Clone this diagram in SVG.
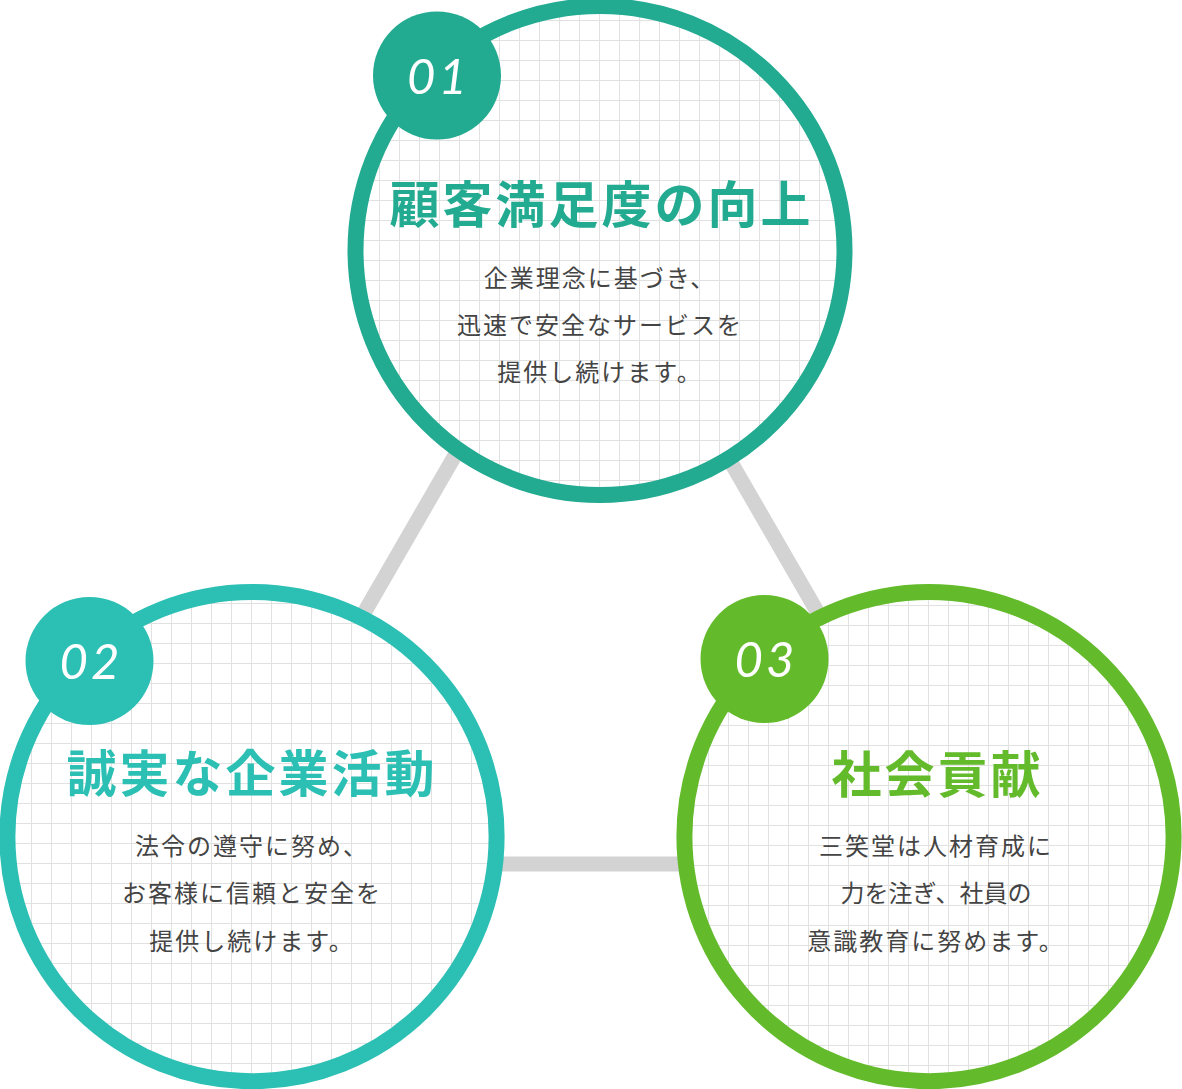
<svg xmlns="http://www.w3.org/2000/svg" width="1182" height="1089" viewBox="0 0 1182 1089">
  <defs>
    <pattern id="grid1" patternUnits="userSpaceOnUse" x="379" y="200" width="20" height="20">
      <path d="M0.5 0V20M0 0.5H20" class="gl"/>
    </pattern>
    <pattern id="grid2" patternUnits="userSpaceOnUse" x="251" y="603" width="20" height="20">
      <path d="M0.5 0V20M0 0.5H20" class="gl"/>
    </pattern>
    <pattern id="grid3" patternUnits="userSpaceOnUse" x="808" y="605" width="20" height="20">
      <path d="M0.5 0V20M0 0.5H20" class="gl"/>
    </pattern>
  </defs>
  <style>
    .gl { stroke: #e1e1e1; stroke-width: 1; fill: none; }
    .conn { stroke: #d3d3d3; stroke-width: 15; fill: none; }
    .bg { fill: #ffffff; }
    .ring { fill: none; stroke-width: 16; }
    .num { font-family: "Lato", "Open Sans", sans-serif; font-style: italic; font-weight: 400; font-size: 49px; letter-spacing: 3px; fill: #ffffff; text-anchor: middle; }
    .title { font-family: "Noto Sans CJK JP", sans-serif; font-weight: 700; font-size: 50px; letter-spacing: 3px; text-anchor: middle; }
    .body { font-family: "Noto Sans CJK JP", sans-serif; font-weight: 400; font-size: 24px; letter-spacing: 2px; fill: #444444; text-anchor: middle; }
    .tight { letter-spacing: 0px; }
    .c1 { stroke: #22ab91; }
    .c2 { stroke: #2cbfb4; }
    .c3 { stroke: #63bb2b; }
  </style>
  <rect width="1182" height="1089" fill="#ffffff"/>
  <g id="connectors">
    <line class="conn" x1="591" y1="220" x2="219" y2="864"/>
    <line class="conn" x1="591" y1="220" x2="963" y2="864"/>
    <line class="conn" x1="219" y1="864" x2="963" y2="864"/>
  </g>
  <g id="node1">
    <circle class="bg" cx="600" cy="250.5" r="244.5"/>
    <circle cx="600" cy="250.5" r="244.5" fill="url(#grid1)"/>
    <circle class="ring c1" cx="600" cy="250.5" r="244.5"/>
    <circle cx="437" cy="75.5" r="64" fill="#22ab91"/>
    <text class="num" x="438.5" y="94">01</text>
    <text class="title" x="601.5" y="223" fill="#22ab91">顧客満足度の向上</text>
    <text class="body" x="600" y="286.5">企業理念に基づき、</text>
    <text class="body" x="600" y="334">迅速で安全なサービスを</text>
    <text class="body" x="600" y="381">提供し続けます。</text>
  </g>
  <g id="node2">
    <circle class="bg" cx="252" cy="836.6" r="244.6"/>
    <circle cx="252" cy="836.6" r="244.6" fill="url(#grid2)"/>
    <circle class="ring c2" cx="252" cy="836.6" r="244.6"/>
    <circle cx="89.5" cy="661" r="64" fill="#2cbfb4"/>
    <text class="num" x="91" y="679">02</text>
    <text class="title" x="252" y="792" fill="#2cbfb4">誠実な企業活動</text>
    <text class="body" x="252" y="854.5">法令の遵守に努め、</text>
    <text class="body" x="252" y="902">お客様に信頼と安全を</text>
    <text class="body" x="252" y="949.5">提供し続けます。</text>
  </g>
  <g id="node3">
    <circle class="bg" cx="929" cy="836.6" r="244.6"/>
    <circle cx="929" cy="836.6" r="244.6" fill="url(#grid3)"/>
    <circle class="ring c3" cx="929" cy="836.6" r="244.6"/>
    <circle cx="764.5" cy="659" r="64" fill="#63bb2b"/>
    <text class="num" x="766" y="677">03</text>
    <text class="title" x="937.5" y="793" fill="#63bb2b">社会貢献</text>
    <text class="body" x="936" y="854.5">三笑堂は人材育成に</text>
    <text class="body tight" x="936" y="902">力を注ぎ、社員の</text>
    <text class="body" x="936" y="950">意識教育に努めます。</text>
  </g>
</svg>
